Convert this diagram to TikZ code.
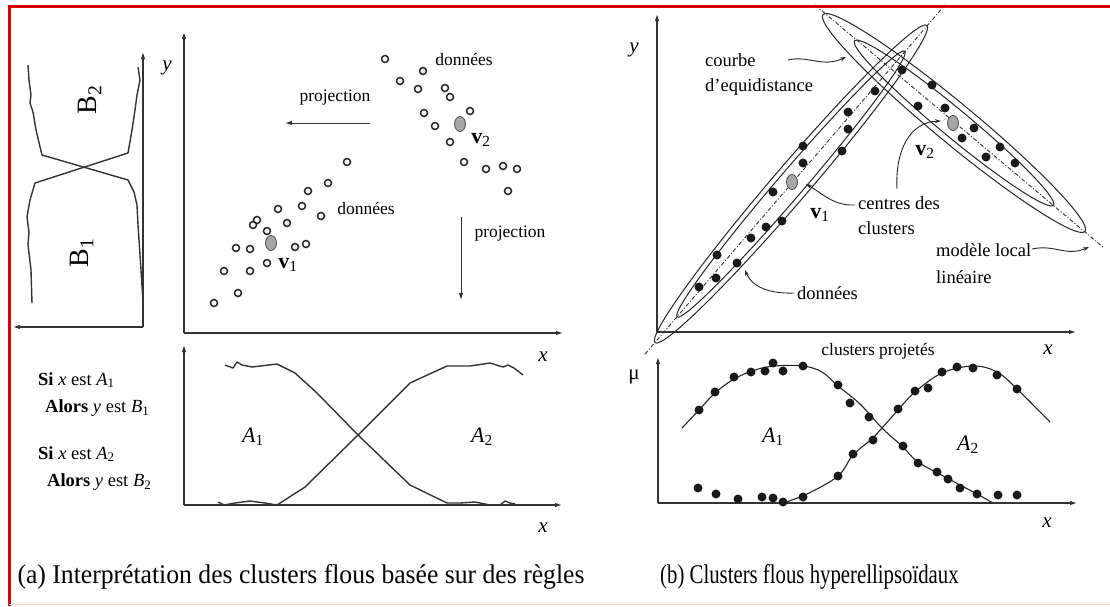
\documentclass[tikz,border=0pt]{standalone}
\usepackage{fontspec}
\usepackage{graphicx}
\setmainfont{Liberation Serif}
\usetikzlibrary{arrows.meta,shapes.geometric}
\newcommand\setfs[1]{\fontsize{#1}{#1}\selectfont}
\begin{document}
\begin{tikzpicture}[x=1pt,y=-1pt,
  axis/.style={draw=black!80, line width=1.1pt, -{Latex[length=7pt,width=4.5pt]}},
  mf/.style={draw=black!80, line width=1.4pt, line join=round},
  smf/.style={draw=black!85, line width=1.1pt},
  odot/.style={circle, draw=black!85, line width=1.5pt, minimum size=7pt, inner sep=0},
  bdot/.style={circle, fill=black!90, minimum size=9pt, inner sep=0},
  ctr/.style={ellipse, draw=black!70, line width=0.8pt, fill=black!35, minimum width=11pt, minimum height=15pt, inner sep=0},
  lbl/.style={font=\setfs{17.5}, inner sep=0},
  rlbl/.style={font=\setfs{18.5}, inner sep=0, anchor=west},
  axl/.style={font=\setfs{21}\itshape, inner sep=0},
  rulebox/.style={font=\setfs{18.5}, inner sep=0, anchor=west},
  big/.style={font=\setfs{22}, inner sep=0},
  captext/.style={font=\setfs{27}, inner sep=0},
  ann/.style={draw=black!85, line width=0.9pt, -{Stealth[length=6pt,width=4pt]}},
  ell/.style={draw=black!85, line width=1pt},
  dd/.style={draw=black!80, line width=0.9pt, dash pattern=on 4pt off 2pt on 1pt off 2pt}
]
\useasboundingbox (0,0) rectangle (1110,606);
\fill[white] (0,0) rectangle (1110,606);

% ---------- left: B membership ----------
\coordinate (Bo) at (143,327);
\coordinate (By) at (143,52);
\coordinate (Bx) at (13,327);
\draw[axis] (Bo) -- (By);
\draw[axis] (Bo) -- (Bx);
\node[axl] (lyB) at (167,68) {y};
\draw[mf] plot coordinates {(28,65) (29,80) (31,95) (30,103) (33,112) (36,130) (42,155) (128,180) (134,192) (137,205) (138,225) (139,240) (141,270) (143,302)};
\draw[mf] plot coordinates {(138,67) (140,80) (137,95) (135,110) (132,130) (128,153) (35,183) (30,200) (27,217) (29,232) (28,245) (31,270) (32,303)};
\node[inner sep=0, rotate=90, font=\setfs{28}] (B2) at (90,100) {B\textsubscript{2}};
\node[inner sep=0, rotate=90, font=\setfs{28}] (B1) at (82,253) {B\textsubscript{1}};

% ---------- top middle: data ----------
\coordinate (Po) at (184,333);
\coordinate (Py) at (184,32);
\coordinate (Px) at (563,333);
\draw[axis] (Po) -- (Py);
\draw[axis] (Po) -- (Px);
\node[axl] (lxP) at (543,357) {x};
\foreach \p [count=\i] in {(385,59),(423,71),(400,81),(418,89),(445,88),(450,97),(470,111),(424,113),(435,126),(450,142),(464,162),(486,169),(503,166),(517,169),(508,191)}
  \node[odot] (u\i) at \p {};
\foreach \p [count=\i] in {(347,162),(328,183),(308,191),(302,206),(278,209),(321,216),(257,220),(253,225),(267,231),(287,223),(306,244),(295,247),(236,248),(250,249),(267,263),(250,271),(224,271),(238,293),(214,303)}
  \node[odot] (l\i) at \p {};
\node[ctr] (v1) at (271,243) {};
\node[ctr] (v2) at (460,124) {};
\node[big] (v1l) at (288,265) {\textbf{v}\textsubscript{1}};
\node[big] (v2l) at (481,140) {\textbf{v}\textsubscript{2}};
\node[lbl] (don1) at (464,59) {données};
\node[lbl] (don2) at (366,208) {données};
\node[lbl] (proj1) at (335,98) {projection};
\node[lbl] (proj2) at (510,234) {projection};
\coordinate (ph1) at (370,123);
\coordinate (ph2) at (285,123);
\draw[axis, line width=1pt] (ph1) -- (ph2);
\coordinate (pv1) at (461,217);
\coordinate (pv2) at (461,300);
\draw[axis, line width=1pt] (pv1) -- (pv2);

% ---------- bottom middle: A membership ----------
\coordinate (Qo) at (184,505);
\coordinate (Qy) at (184,345);
\coordinate (Qx) at (562,505);
\draw[axis] (Qo) -- (Qy);
\draw[axis] (Qo) -- (Qx);
\node[axl] (lxQ) at (543,528) {x};
\draw[mf] plot coordinates {(225,365) (233,368) (237,362) (242,365) (252,367) (277,364) (295,373) (317,393) (358,435) (410,485) (447,503) (460,503) (475,502) (490,505) (500,505) (505,501) (510,503) (515,504)};
\draw[mf] plot coordinates {(218,502) (224,505) (235,503) (250,501) (265,503) (277,505) (305,487) (358,435) (410,383) (447,366) (470,366) (490,363) (503,367) (508,365) (514,368) (523,375)};
\node[big] (A1a) at (253,437) {\textit{A}\textsubscript{1}};
\node[big] (A2a) at (482,437) {\textit{A}\textsubscript{2}};

% ---------- rules ----------
\node[rulebox] (r1) at (38,380) {\textbf{Si} \textit{x} est \textit{A}\textsubscript{1}};
\node[rulebox] (r2) at (45,408) {\textbf{Alors} \textit{y} est \textit{B}\textsubscript{1}};
\node[rulebox] (r3) at (38,454) {\textbf{Si} \textit{x} est \textit{A}\textsubscript{2}};
\node[rulebox] (r4) at (47,482) {\textbf{Alors} \textit{y} est \textit{B}\textsubscript{2}};

% ---------- right top: ellipsoids ----------
\coordinate (Ro) at (657,332);
\coordinate (Ry) at (657,14);
\coordinate (Rx) at (1076,332);
\draw[axis] (Ro) -- (Ry);
\draw[axis] (Ro) -- (Rx);
\node[axl] (lyR) at (634,50) {y};
\node[axl] (lxR) at (1048,350) {x};
\coordinate (e1) at (791,184);
\coordinate (e2) at (954,123);
\draw[ell, rotate around={49.4:(e1)}] (e1) ellipse [x radius=209pt, y radius=18pt];
\draw[ell, rotate around={49.4:(e1)}] (e1) ellipse [x radius=175pt, y radius=13pt];
\draw[ell, rotate around={-39.6:(e2)}] (e2) ellipse [x radius=170pt, y radius=20pt];
\draw[ell, rotate around={-39.6:(e2)}] (e2) ellipse [x radius=129pt, y radius=14pt];
\coordinate (d1a) at (645,354);
\coordinate (d1b) at (945,5);
\coordinate (d2a) at (815,5);
\coordinate (d2b) at (1104,248);
\draw[dd] (d1a) -- (d1b);
\draw[dd] (d2a) -- (d2b);
\foreach \p [count=\i] in {(902,70),(875,91),(848,112),(848,129),(842,151),(803,146),(803,163),(773,192),(782,221),(766,227),(751,238),(737,263),(717,255),(716,278),(699,287),(932,85),(918,106),(945,108),(974,128),(962,138),(1000,147),(986,157),(1015,163)}
  \node[bdot] (k\i) at \p {};
\node[ctr] (c1) at (792,182) {};
\node[ctr] (c2) at (953,123) {};
\node[big] (c1l) at (820,215) {\textbf{v}\textsubscript{1}};
\node[big] (c2l) at (925,152) {\textbf{v}\textsubscript{2}};
\node[rlbl] (cb1) at (705,60) {courbe};
\node[rlbl] (cb2) at (705,87) {d'equidistance};
\node[rlbl] (ce1) at (858,203) {centres des};
\node[rlbl] (ce2) at (858,228) {clusters};
\node[rlbl] (do) at (797,293) {données};
\node[rlbl] (ml1) at (936,250) {modèle local};
\node[rlbl] (ml2) at (936,277) {linéaire};
\node[lbl] (cp) at (878,351) {clusters projetés};
\coordinate (cbS) at (788,60);
\coordinate (cbE) at (846,57);
\draw[ann] (cbS) .. controls (808,55) and (822,68) .. (cbE);
\coordinate (v2S) at (897,189);
\coordinate (v2E) at (941,121);
\draw[ann] (v2S) .. controls (895,150) and (910,122) .. (v2E);
\coordinate (v1S) at (855,205);
\coordinate (v1E) at (806,184);
\draw[ann] (v1S) .. controls (833,206) and (822,193) .. (v1E);
\coordinate (doS) at (794,293);
\coordinate (doE) at (745,270);
\draw[ann] (doS) .. controls (770,294) and (752,287) .. (doE);
\coordinate (mlS) at (1032,249);
\coordinate (mlE) at (1089,247);
\draw[ann] (mlS) .. controls (1055,244) and (1066,257) .. (mlE);

% ---------- right bottom: projected clusters ----------
\coordinate (So) at (658,503);
\coordinate (Sy) at (658,357);
\coordinate (Sx) at (1077,503);
\draw[axis] (So) -- (Sy);
\draw[axis] (So) -- (Sx);
\node[font=\setfs{21}, inner sep=0] (mu) at (634,377) {μ};
\node[axl] (lxS) at (1047,523) {x};
\draw[smf] plot[smooth, tension=0.6] coordinates {(682,428) (699,410) (715,393) (734,379) (755,370) (775,366) (803,366) (822,372) (838,386) (860,404) (882,428) (903,447) (918,462) (947,478) (977,494) (993,503)};
\draw[smf] plot[smooth, tension=0.6] coordinates {(783,503) (807,494) (838,476) (853,455) (873,438) (882,428) (898,410) (915,392) (942,373) (973,366) (997,372) (1017,389) (1050,422)};
\foreach \p [count=\i] in {(699,410),(715,392),(734,377),(751,372),(765,371),(773,363),(783,371),(803,366),(838,385),(850,403),(869,417),(903,446),(918,463),(937,472),(948,479),(960,488),(977,494),(998,495),(1017,495),(698,488),(716,494),(738,499),(762,497),(773,498),(783,502),(803,497),(838,476),(853,454),(873,440),(898,409),(915,391),(928,388),(942,372),(957,367),(973,368),(997,375),(1017,389)}
  \node[bdot] (m\i) at \p {};
\node[big] (A1b) at (773,437) {\textit{A}\textsubscript{1}};
\node[big] (A2b) at (968,445) {\textit{A}\textsubscript{2}};

% ---------- captions ----------
\node[captext] (capa) at (301,577) {\scalebox{0.95}[1]{(a) Interprétation des clusters flous basée sur des règles}};
\node[captext, anchor=west] (capb) at (660,577) {\scalebox{0.77}[1]{(b) Clusters flous hyperellipsoïdaux}};

% ---------- frame ----------
\draw[red!85!black, line width=3pt] (8,6) -- (1110,6);
\draw[red!85!black, line width=2.5pt] (9.5,4.5) -- (9.5,606);
\draw[red!20, line width=1pt] (9,604) -- (1110,604);
\end{tikzpicture}
\end{document}
